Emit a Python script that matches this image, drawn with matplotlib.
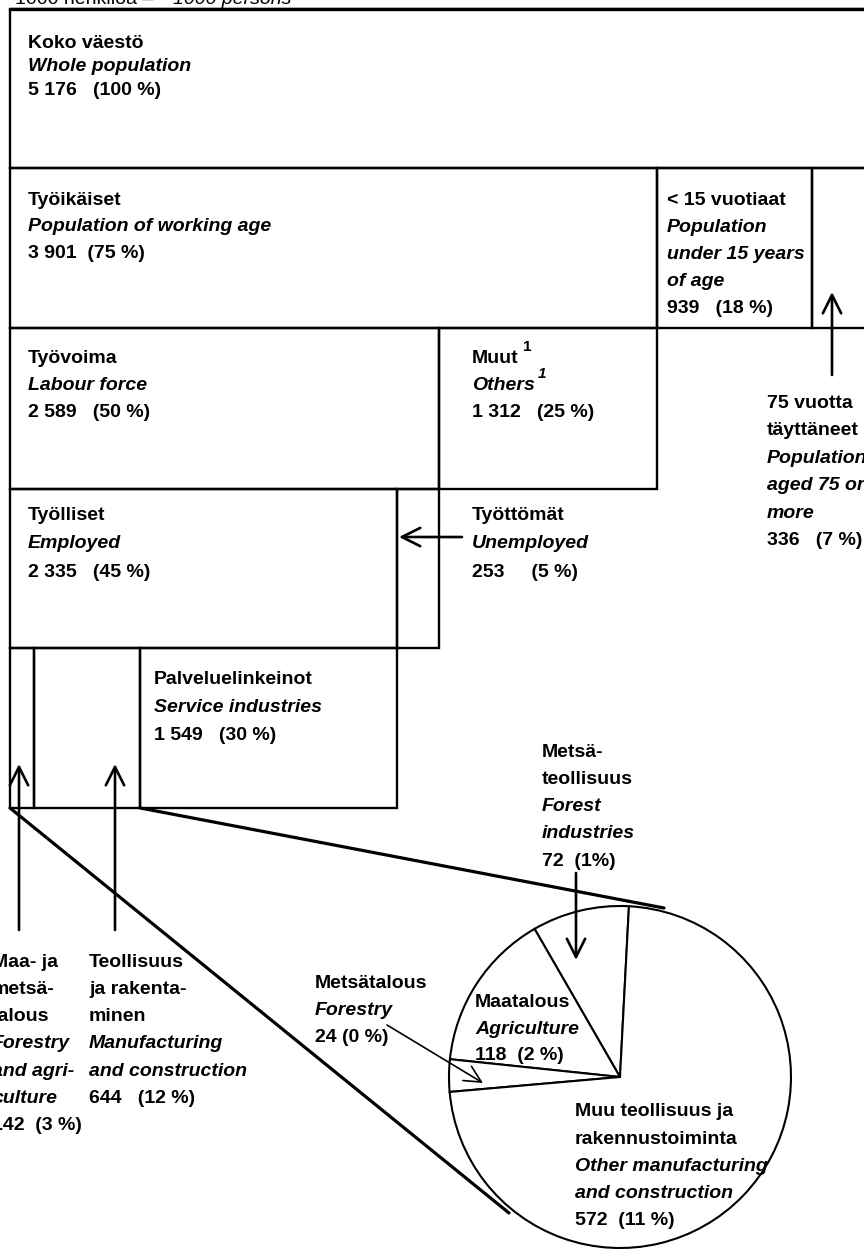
import matplotlib
matplotlib.use('Agg')
import matplotlib.pyplot as plt
from matplotlib.patches import Rectangle

plt.rcParams['font.family'] = ['Liberation Sans', 'DejaVu Sans']

# ---------------- data (1000 persons) ----------------
total = 5176
row_working = [3901, 939, 336]          # working age, under 15, 75+
row_labour = [2589, 1312]               # labour force, others
row_employed = [2335, 253]              # employed, unemployed
row_industry = [142, 644, 1549]         # agri/forestry, manufacturing, services
pie_names = ['Forest industries', 'Agriculture', 'Forestry', 'Other manufacturing']
pie_values = [72, 118, 24, 572]

# ---------------- layout ----------------
W, H = 864, 1249
fig = plt.figure(figsize=(W / 100, H / 100), dpi=100)
ax = fig.add_axes([0, 0, 1, 1])

X0 = 10
PX = 858 / total
ROWS = [9, 168, 328, 489, 648, 808]
LW = 1.7
FS = 14

rows = [[total], row_working, row_labour, row_employed, row_industry]
for r, vals in enumerate(rows):
    top, bot = ROWS[r], ROWS[r + 1]
    x = X0
    for v in vals:
        w = v * PX
        ax.add_patch(Rectangle((x, top), w, bot - top, fill=False,
                               edgecolor='black', lw=LW, zorder=2))
        x += w
# heavier top line
ax.plot([X0, W + 10], [ROWS[0], ROWS[0]], color='black', lw=2.4, zorder=3)


def block(x, y0, lines, dy=27, fs=FS):
    for i, (t, it) in enumerate(lines):
        ax.text(x, y0 + i * dy, t, fontsize=fs, fontweight='bold',
                fontstyle='italic' if it else 'normal', va='center', ha='left',
                zorder=5)


# header (partly cut off at the top, as in the source)
ax.text(15, 4, '1000 henkilöä –', fontsize=FS, va='baseline', ha='left')
ax.text(173, 4, '1000 persons', fontsize=FS, fontstyle='italic', va='baseline', ha='left')

block(28, 43, [('Koko väestö', False), ('Whole population', True),
               ('5 176   (100 %)', False)], dy=23.5)
block(28, 200, [('Työikäiset', False), ('Population of working age', True),
                ('3 901  (75 %)', False)], dy=26.5)
block(667, 200, [('< 15 vuotiaat', False), ('Population', True),
                 ('under 15 years', True), ('of age', True),
                 ('939   (18 %)', False)], dy=27)
block(28, 358, [('Työvoima', False), ('Labour force', True),
                ('2 589   (50 %)', False)])
block(472, 358, [('Muut', False), ('Others', True), ('1 312   (25 %)', False)])
ax.text(523, 347, '1', fontsize=11, fontweight='bold', va='center', ha='left')
ax.text(538, 374, '1', fontsize=11, fontweight='bold', fontstyle='italic',
        va='center', ha='left')
block(767, 403, [('75 vuotta', False), ('täyttäneet', False),
                 ('Population', True), ('aged 75 or', True), ('more', True),
                 ('336   (7 %)', False)], dy=27.5)
block(28, 515, [('Työlliset', False), ('Employed', True),
                ('2 335   (45 %)', False)], dy=28.5)
block(472, 515, [('Työttömät', False), ('Unemployed', True),
                 ('253     (5 %)', False)], dy=28.5)
block(154, 679, [('Palveluelinkeinot', False), ('Service industries', True),
                 ('1 549   (30 %)', False)], dy=28)
block(-8, 962, [('Maa- ja', False), ('metsä-', False), ('talous', False),
                ('Forestry', True), ('and agri-', True), ('culture', True),
                ('142  (3 %)', False)], dy=27.3)
block(89, 962, [('Teollisuus', False), ('ja rakenta-', False), ('minen', False),
                ('Manufacturing', True), ('and construction', True),
                ('644   (12 %)', False)], dy=27.3)
block(542, 752, [('Metsä-', False), ('teollisuus', False), ('Forest', True),
                 ('industries', True), ('72  (1%)', False)], dy=27.3)
block(315, 983, [('Metsätalous', False), ('Forestry', True),
                 ('24 (0 %)', False)], dy=27)
block(475, 1002, [('Maatalous', False), ('Agriculture', True),
                  ('118  (2 %)', False)], dy=27)
block(575, 1112, [('Muu teollisuus ja', False), ('rakennustoiminta', False),
                  ('Other manufacturing', True), ('and construction', True),
                  ('572  (11 %)', False)], dy=27.2)

# ---------------- pie (zoomed breakdown) ----------------
CX, CY, R = 620, 1077, 171
ax.pie(pie_values, center=(CX, CY), radius=R, startangle=-87, counterclock=False,
       colors=['white'] * len(pie_values),
       wedgeprops=dict(edgecolor='black', linewidth=1.5), frame=False)

# magnifier lines from the bottom row to the circle
ax.plot([X0, 509], [ROWS[5], 1213], color='black', lw=2.3, zorder=3,
        solid_capstyle='round')
x_manuf_end = X0 + (row_industry[0] + row_industry[1]) * PX
ax.plot([x_manuf_end, 664], [ROWS[5], 908], color='black', lw=2.3, zorder=3,
        solid_capstyle='round')

# ---------------- arrows ----------------
def arrow(tail, tip, lw=1.9, ms=22):
    ax.annotate('', xy=tip, xytext=tail, zorder=6,
                arrowprops=dict(arrowstyle='->,head_length=0.6,head_width=0.3',
                                lw=lw, color='black', mutation_scale=ms,
                                shrinkA=0, shrinkB=0))

arrow((832, 375), (832, 292))
arrow((462, 537), (399, 537))
arrow((19, 930), (19, 764))
arrow((115, 930), (115, 764))
arrow((576, 873), (576, 960))
arrow((387, 1025), (483, 1083), lw=1.2, ms=20)

ax.set_xlim(0, W)
ax.set_ylim(H, 0)
ax.set_aspect('auto')
ax.axis('off')
fig.savefig('out.png', dpi=100, facecolor='white')
